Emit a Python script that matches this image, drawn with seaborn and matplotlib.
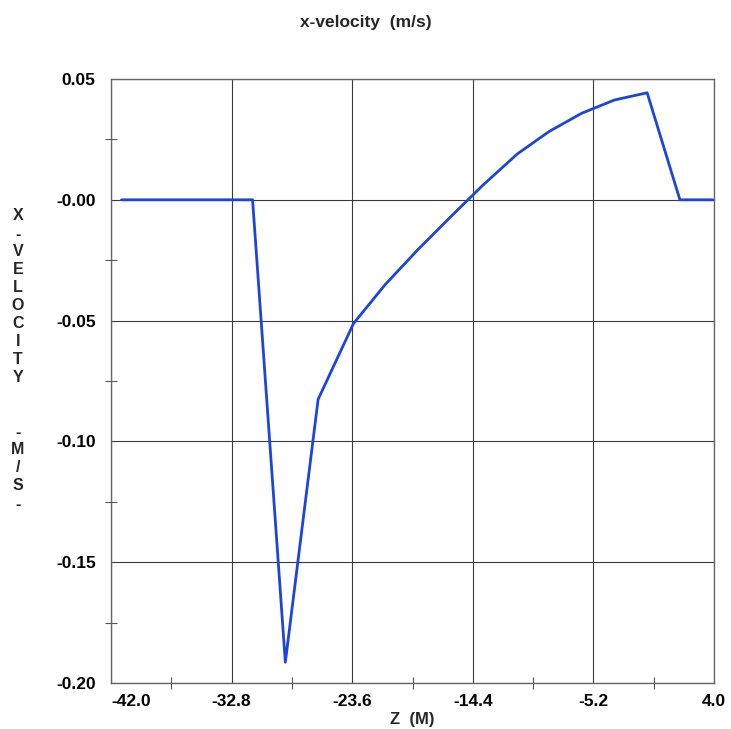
import numpy as np
import pandas as pd
import matplotlib
matplotlib.use("Agg")
import matplotlib.pyplot as plt
from matplotlib.ticker import FixedLocator
import seaborn as sns

# Axial position (m) and x-velocity (m/s) along the profile
z_m = [-41.2, -31.2, -28.7, -26.2, -23.5, -21.1, -18.6, -16.1, -13.6,
       -11.0, -8.6, -6.1, -3.6, -1.1, 1.4, 3.9]
x_velocity = [0.0, 0.0, -0.1914, -0.0826, -0.0512, -0.0352, -0.0207,
              -0.0071, 0.0062, 0.0190, 0.0282, 0.0358, 0.0413, 0.0443,
              0.0, 0.0]

x_ticks = [-42.0, -32.8, -23.6, -14.4, -5.2, 4.0]
x_tick_labels = ["-42.0", "-32.8", "-23.6", "-14.4", "-5.2", "4.0"]
x_minor_ticks = [-37.4, -28.2, -19.0, -9.8, -0.6]
y_ticks = [0.05, 0.0, -0.05, -0.10, -0.15, -0.20]
y_tick_labels = ["0.05", "-0.00", "-0.05", "-0.10", "-0.15", "-0.20"]
y_minor_ticks = [0.025, -0.025, -0.075, -0.125, -0.175]

title_text = "x-velocity  (m/s)"
x_label = "Z  (M)"
y_label_letters = ["X", "-", "V", "E", "L", "O", "C", "I", "T", "Y", "", "",
                   "-", "M", "/", "S", "-"]

sns.set_theme(style="white")
plt.rcParams["font.family"] = ["Liberation Sans", "DejaVu Sans"]
plt.rcParams["font.weight"] = "bold"

df = pd.DataFrame({"z": z_m, "u": x_velocity})

fig = plt.figure(figsize=(7.31, 7.29), dpi=100)
ax = fig.add_axes([111 / 731, 1 - 683 / 729, 603 / 731, 604 / 729])

sns.lineplot(data=df, x="z", y="u", ax=ax, color="#1c45dc", linewidth=2.0,
             sort=False, estimator=None, zorder=3)

ax.set_xlim(-42.0, 4.0)
ax.set_ylim(-0.20, 0.05)

ax.xaxis.set_major_locator(FixedLocator(x_ticks))
ax.yaxis.set_major_locator(FixedLocator(y_ticks))
ax.set_xticklabels(x_tick_labels, fontsize=12.5, fontweight="bold")
ax.set_yticklabels(y_tick_labels, fontsize=12.5, fontweight="bold")
ax.xaxis.set_minor_locator(FixedLocator(x_minor_ticks))
ax.yaxis.set_minor_locator(FixedLocator(y_minor_ticks))

ax.tick_params(axis="both", which="major", length=0, colors="black")
ax.tick_params(axis="x", which="major", pad=8)
ax.tick_params(axis="y", which="major", pad=11)
ax.tick_params(axis="both", which="minor", direction="inout", length=8,
               width=0.8, color="#555555", bottom=True, left=True)
ax.get_xticklabels()[0].set_horizontalalignment("left")

ax.grid(True, which="major", color="#3a3a3a", linewidth=0.8)
for side in ["left", "right", "top", "bottom"]:
    ax.spines[side].set_color("#666666")
    ax.spines[side].set_linewidth(1.0)

ax.set_xlabel(x_label, fontsize=12, fontweight="bold", labelpad=2)
ax.set_ylabel("")

fig.text(0.5, 1 - 22 / 729, title_text, ha="center", va="center",
         fontsize=12.5, fontweight="bold")
fig.text(18 / 731, 1 - 360 / 729, "\n".join(y_label_letters), ha="center",
         va="center", fontsize=11.5, fontweight="bold", linespacing=1.25)

fig.savefig("out.png", dpi=100, facecolor="white")
